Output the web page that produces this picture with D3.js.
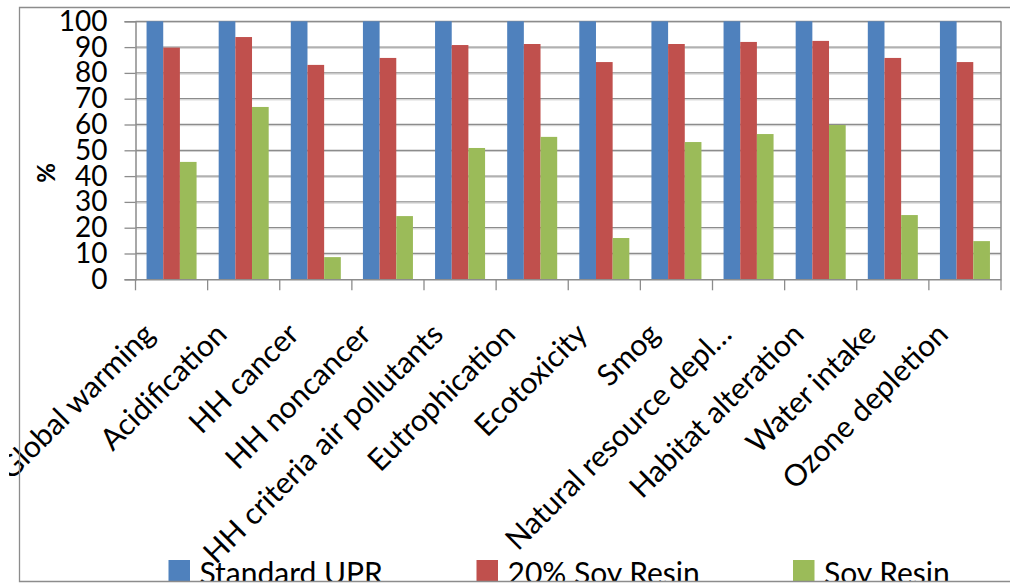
<!DOCTYPE html>
<html>
<head>
<meta charset="utf-8">
<script src="https://cdn.jsdelivr.net/npm/d3@7"></script>
<style>
  html, body { margin: 0; padding: 0; background: #fff; }
  svg { display: block; }
  text { font-family: Lato, "Open Sans", sans-serif; fill: #000; }
</style>
</head>
<body>
<svg id="chart" width="1010" height="586"></svg>
<script>
// Impact categories (x axis)
const categories = [
  "Global warming", "Acidification", "HH cancer", "HH noncancer",
  "HH criteria air pollutants", "Eutrophication", "Ecotoxicity", "Smog",
  "Natural resource depl\u2026", "Habitat alteration", "Water intake", "Ozone depletion"
];
// Series names
const seriesNames = ["Standard UPR", "20% Soy Resin", "Soy Resin"];
// Relative impact, % of Standard UPR
const standardUPR = [100, 100, 100, 100, 100, 100, 100, 100, 100, 100, 100, 100];
const soy20 = [89.8, 93.9, 83.1, 85.8, 90.8, 91.2, 84.2, 91.2, 92.0, 92.4, 85.8, 84.2];
const soyResin = [45.5, 66.8, 8.6, 24.5, 50.9, 55.2, 16.0, 53.2, 56.3, 59.8, 24.9, 14.8];
// Y axis ticks
const yTicks = [0, 10, 20, 30, 40, 50, 60, 70, 80, 90, 100];

const colors = ["#4F81BD", "#C0504D", "#9BBB59"];
const seriesValues = [standardUPR, soy20, soyResin];

const svg = d3.select("#chart");
const plot = { left: 135.5, right: 1001, top: 21.3, bottom: 279.3 };

// Clip everything to the chart frame
svg.append("defs").append("clipPath").attr("id", "frameClip")
  .append("rect").attr("x", 9).attr("y", 0).attr("width", 1001).attr("height", 581);

const root = svg.append("g").attr("clip-path", "url(#frameClip)");

const x = d3.scaleBand().domain(categories).range([plot.left, plot.right]).paddingInner(0).paddingOuter(0);
const groupW = x.bandwidth() * 50 / 72.1;
const xs = d3.scaleBand().domain(d3.range(3)).range([0, groupW]).padding(0);
const y = d3.scaleLinear().domain([0, 100]).range([plot.bottom, plot.top]);

// Gridlines
root.append("g").selectAll("line").data(yTicks.filter(d => d > 0)).join("line")
  .attr("x1", plot.left).attr("x2", plot.right)
  .attr("y1", d => y(d)).attr("y2", d => y(d))
  .attr("stroke", "#8c8c8c").attr("stroke-width", 1.3);
root.append("g").selectAll("line").data(yTicks.filter(d => d > 0)).join("line")
  .attr("x1", plot.left).attr("x2", plot.right)
  .attr("y1", d => y(d) + 1.2).attr("y2", d => y(d) + 1.2)
  .attr("stroke", "#d0d0d0").attr("stroke-width", 1);

// Plot area border (right side)
root.append("line").attr("x1", plot.right).attr("x2", plot.right)
  .attr("y1", plot.top).attr("y2", plot.bottom)
  .attr("stroke", "#8c8c8c").attr("stroke-width", 1.5);

// Bars
const groups = root.append("g").selectAll("g").data(categories).join("g")
  .attr("transform", d => `translate(${x(d) + (x.bandwidth() - groupW) / 2},0)`);
groups.selectAll("rect").data((d, i) => seriesValues.map((s, k) => ({ k, v: s[i] }))).join("rect")
  .attr("x", d => xs(d.k))
  .attr("width", xs.bandwidth())
  .attr("y", d => y(d.v))
  .attr("height", d => y(0) - y(d.v))
  .attr("fill", d => colors[d.k]);

// Y axis
const yAxis = d3.axisLeft(y).tickValues(yTicks).tickSize(11).tickPadding(17);
const gy = root.append("g").attr("transform", `translate(${plot.left},0)`).call(yAxis);
gy.select(".domain").attr("stroke", "#8c8c8c").attr("stroke-width", 1.5);
gy.selectAll(".tick line").attr("stroke", "#8c8c8c").attr("stroke-width", 1.3);
gy.selectAll(".tick text").style("font-size", "28px").style("font-family", "Lato, sans-serif").attr("fill", "#000");

// X axis
const xAxis = d3.axisBottom(x).tickValues([]).tickSize(0);
const gx = root.append("g").attr("transform", `translate(0,${plot.bottom})`).call(xAxis);
gx.select(".domain").attr("stroke", "#8c8c8c").attr("stroke-width", 1.5);
const boundaries = categories.map(c => x(c)).concat([plot.right]);
gx.selectAll(".bt").data(boundaries).join("line").attr("class", "bt")
  .attr("x1", d => d).attr("x2", d => d).attr("y1", 0).attr("y2", 11)
  .attr("stroke", "#8c8c8c").attr("stroke-width", 1.3);

// Rotated category labels
root.append("g").selectAll("text").data(categories).join("text")
  .attr("transform", d => `translate(${x(d) + x.bandwidth() / 2 - 30},${plot.bottom + 42}) rotate(-45)`)
  .attr("text-anchor", "end")
  .attr("dy", "0.7em")
  .style("font-size", "30px")
  .text(d => d);

// Y axis title
root.append("text")
  .attr("transform", "translate(55,173) rotate(-90)")
  .attr("text-anchor", "middle")
  .style("font-size", "24px").style("font-weight", "bold")
  .text("%");

// Legend
const legendX = [168.5, 476.5, 793];
const lg = root.append("g").selectAll("g").data(seriesNames).join("g")
  .attr("transform", (d, i) => `translate(${legendX[i]},560)`);
lg.append("rect").attr("width", 21.5).attr("height", 21).attr("fill", (d, i) => colors[i]);
lg.append("text").attr("x", 31).attr("y", 24).style("font-size", "30px").text(d => d);

// Chart frame
svg.append("path")
  .attr("d", "M1010,7.5 H19.5 V581.5 H1010")
  .attr("fill", "none").attr("stroke", "#8c8c8c").attr("stroke-width", 1.3);
</script>
</body>
</html>
